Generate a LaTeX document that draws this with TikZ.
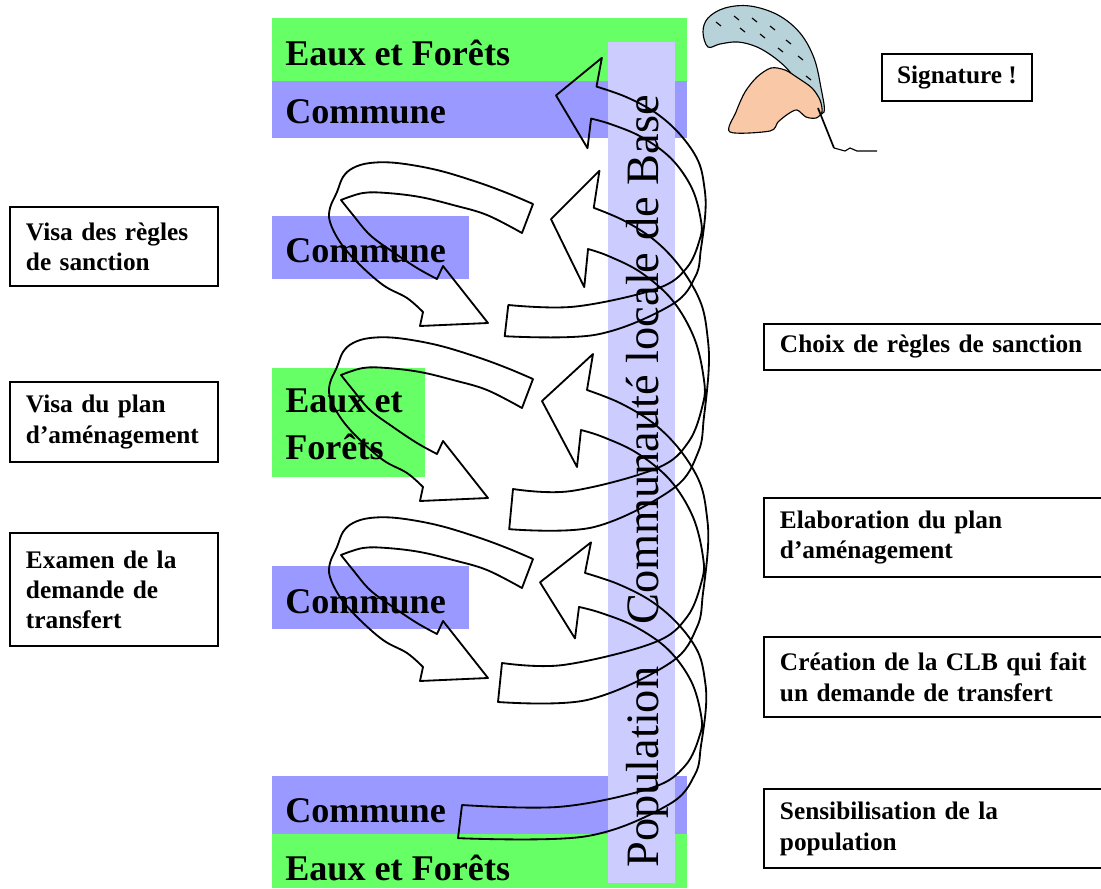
\documentclass[tikz,border=0pt]{standalone}
\usepackage{fontspec}
\setmainfont{Liberation Serif}
\definecolor{efgreen}{HTML}{66FF66}
\definecolor{comblue}{HTML}{9999FF}
\definecolor{clbmauve}{HTML}{CCCCFF}
\definecolor{plume}{HTML}{B7D2D9}
\definecolor{peau}{HTML}{F9C8A6}

% boucle vers la droite : decalage, xscale, yscale, rallonge de la queue
\newcommand{\rightloop}[4]{%
  \draw[ribbon, shift={(#1)}, xscale=#2, yscale=#3]
    plot[smooth, tension=0.6] coordinates {(-#4,0) (61,2) (151,-20) (185,-46) (200,-83) (201,-106) (191,-146) (168,-183) (135,-210) (101,-226) (79,-233)}
    -- (75,-196) -- (40,-262) -- (91,-309) -- (85,-273)
    -- plot[smooth, tension=0.6] coordinates {(85,-273) (118,-260) (151,-240) (178,-213) (198,-180) (205,-146) (206,-116) (201,-70) (195,-36) (168,0) (85,37) (-4-#4,39)}
    -- cycle;}
% boucle vers la gauche : decalage
\newcommand{\leftloop}[1]{%
  \draw[ribbon, shift={(#1)}]
    plot[smooth, tension=0.6] coordinates {(0,0) (-26,-11) (-56,-22) (-96,-34) (-136,-41) (-163,-41) (-180,-36) (-190,-27) (-196,-12) (-203,4) (-203,18) (-193,38) (-176,58) (-150,81) (-126,94) (-110,108)}
    -- (-113,122) -- (-45,119) -- (-90,62) -- (-96,75)
    -- plot[smooth, tension=0.6] coordinates {(-96,75) (-116,64) (-140,48) (-163,31) (-180,11) (-192,-4)}
    -- plot[smooth, tension=0.6] coordinates {(-192,-4) (-170,-11) (-146,-11) (-113,-7) (-80,1) (-46,11) (-11,29)}
    -- cycle;}

\begin{document}
\begin{tikzpicture}[x=0.025cm, y=-0.025cm,
    big/.style={anchor=base west, inner sep=0pt, font=\fontsize{25.7}{33.4}\selectfont\bfseries},
    leftbox/.style={draw, line width=1.4pt, anchor=north west, inner xsep=0.4cm, text width=4.4cm, align=left, font=\fontsize{18}{21.4}\selectfont\bfseries},
    rightbox/.style={draw, line width=1.4pt, anchor=north west, inner xsep=0.4cm, text width=9cm, align=left, font=\fontsize{18}{22}\selectfont\bfseries},
    ribbon/.style={draw=black, line width=1.3pt, line join=round},
    quill/.style={draw=black, line width=0.8pt}
  ]
  \useasboundingbox (0,0) rectangle (1101,889);

  % bandes Eaux et Forets / Commune
  \fill[efgreen] (272,18) rectangle (687,81);
  \fill[comblue] (272,81) rectangle (687,138);
  \fill[comblue] (272,216) rectangle (469,279);
  \fill[efgreen] (272,368) rectangle (425,477);
  \fill[comblue] (272,566) rectangle (469,629);
  \fill[comblue] (272,776) rectangle (687,834);
  \fill[efgreen] (272,834) rectangle (687,888);
  \fill[clbmauve] (608,42) rectangle (675,883);

  \node[big] (efHaut) at (285,65) {Eaux et Forêts};
  \node[big] (comHaut) at (285,123) {Commune};
  \node[big] (comRegles) at (285,262) {Commune};
  \node[big, anchor=north west, align=left] (efPlan) at (285,389) {Eaux et\\Forêts};
  \node[big] (comTransfert) at (285,613) {Commune};
  \node[big] (comBas) at (285,822) {Commune};
  \node[big] (efBas) at (285,880) {Eaux et Forêts};

  \node[rotate=90, anchor=base west, inner sep=0pt, font=\fontsize{33}{33}\selectfont] (clb) at (658,868)
    {Population\hspace{0.9em}Communauté locale de Base};

  % etapes
  \node[leftbox, minimum height=1.975cm] (visaRegles) at (9,206) {Visa des règles\\de sanction};
  \node[leftbox, minimum height=2cm] (visaPlan) at (9,381) {Visa du plan\\d’aménagement};
  \node[leftbox, minimum height=2.825cm] (examen) at (9,532) {Examen de la\\demande de\\transfert};

  \node[rightbox, minimum height=1.15cm] (choix) at (763,323) {Choix de règles de sanction};
  \node[rightbox, minimum height=1.975cm] (elaboration) at (763,497) {Elaboration du plan\\d’aménagement};
  \node[rightbox, minimum height=2cm] (creation) at (763,636) {Création de la CLB qui fait\\un demande de transfert};
  \node[rightbox, minimum height=1.975cm] (sensibilisation) at (763,788) {Sensibilisation de la\\population};

  \node[draw, line width=1.4pt, minimum width=3.75cm, minimum height=1.175cm,
        font=\fontsize{18}{21}\selectfont\bfseries] (signature) at (957,77.5) {Signature !};

  % main et plume
  \draw[quill, fill=plume] plot[smooth cycle, tension=0.6] coordinates {(703,32) (708,18) (725,8) (750,6) (778,15) (800,33) (814,58) (821,88) (824,112) (812,110) (802,90) (790,72) (775,58) (757,47) (738,42) (720,44) (708,47)};
  \foreach \a/\b in {716/22, 734/16, 752/18, 770/26, 786/40, 798/56, 806/76, 740/28, 760/34, 778/48}
    \draw[line width=0.8pt] (\a,\b) -- ++(5,4);
  \draw[quill, fill=peau] plot[smooth cycle, tension=0.5] coordinates {(730,132) (736,112) (745,92) (757,77) (771,68) (785,70) (798,78) (812,88) (820,100) (822,112) (816,118) (806,117) (797,110) (788,114) (778,122) (770,131)};
  \draw[line width=1.2pt] (818,108) -- (834,148);
  \draw[quill] (834,148) -- (845,151) -- (850,148) -- (857,151) -- (877,151);

  % fleches en spirale
  \rightloop{500,805}{1}{0.85}{38}
  \rightloop{502,663}{1}{1}{0}
  \rightloop{513,489}{0.95}{1.03}{0}
  \rightloop{520,305}{0.9}{0.8}{13}
  \leftloop{533,559}
  \leftloop{533,379}
  \leftloop{533,204}
\end{tikzpicture}
\end{document}
